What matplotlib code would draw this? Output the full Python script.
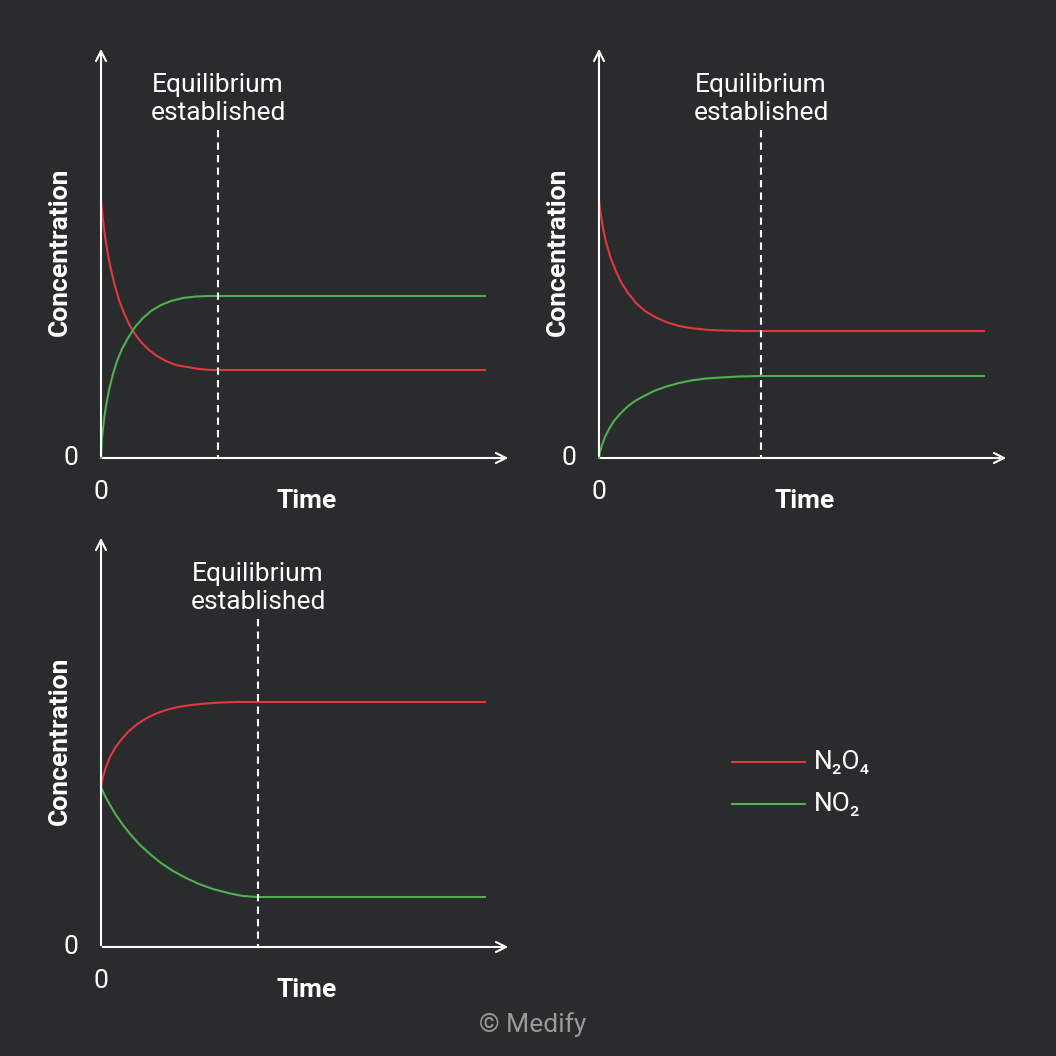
import matplotlib
matplotlib.use("Agg")
import matplotlib.pyplot as plt

BG = "#2a2b2d"
RED = "#e0393e"
GREEN = "#4fb04f"
FG = "white"
plt.rcParams["font.family"] = ["Roboto", "DejaVu Sans"]

# Curves as (time offset, concentration), in pixel units from each origin
p1_red_t = [0, 2, 4, 7, 10, 14, 18, 23, 28, 34, 40, 48, 56, 65, 75, 86, 98, 110, 117, 384]
p1_red_c = [258, 238, 222, 203, 188, 172, 158, 145, 134, 124, 116, 108, 102, 97, 93, 91, 89, 88, 88, 88]
p1_green_t = [0, 1, 3, 5, 8, 12, 16, 21, 27, 34, 42, 50, 60, 70, 82, 95, 108, 117, 384]
p1_green_c = [0, 20, 38, 52, 68, 84, 97, 109, 120, 131, 140, 147, 153, 157, 160, 161.5, 162, 162, 162]

p2_red_t = [0, 2, 4, 7, 11, 16, 22, 29, 37, 46, 56, 67, 80, 95, 110, 125, 145, 162, 385]
p2_red_c = [258, 242, 230, 216, 202, 189, 176, 165, 155, 147, 141, 136, 132, 129.5, 128, 127.5, 127, 127, 127]
p2_green_t = [0, 1, 3, 6, 10, 15, 21, 28, 36, 45, 55, 66, 78, 92, 107, 122, 140, 162, 385]
p2_green_c = [0, 6, 13, 21, 29, 37, 44, 51, 57, 62, 67, 71, 74.5, 77.5, 79.5, 80.5, 81.5, 82, 82]

p3_red_t = [0, 2, 5, 9, 14, 20, 27, 35, 44, 54, 65, 77, 90, 105, 120, 135, 157, 384]
p3_red_c = [160, 170, 180, 190, 199, 207, 215, 222, 228, 233, 237, 240, 242, 243.5, 244.5, 245, 245, 245]
p3_green_t = [0, 4, 9, 15, 22, 30, 39, 49, 60, 72, 85, 98, 112, 127, 142, 157, 384]
p3_green_c = [160, 151, 142, 132, 122, 112, 102, 93, 84, 76, 69, 63, 58, 54, 51, 50, 50]

eq_times = [117, 162, 157]
legend_labels = ["N₂O₄", "NO₂"]

panels = [
    ((101, 458), p1_red_t, p1_red_c, p1_green_t, p1_green_c),
    ((599, 458), p2_red_t, p2_red_c, p2_green_t, p2_green_c),
    ((101, 947), p3_red_t, p3_red_c, p3_green_t, p3_green_c),
]

fig = plt.figure(figsize=(10.56, 10.56), dpi=100)
fig.patch.set_facecolor(BG)
ax = fig.add_axes([0, 0, 1, 1])
ax.set_facecolor(BG)
ax.set_xlim(0, 1056)
ax.set_ylim(1056, 0)
ax.axis("off")

arrow = dict(arrowstyle="->", color=FG, lw=1.5, mutation_scale=18)
for i, ((ox, oy), rt, rc, gt, gc) in enumerate(panels):
    ax.annotate("", xy=(ox, oy - 412), xytext=(ox, oy + 1), arrowprops=arrow)
    ax.annotate("", xy=(ox + 410, oy), xytext=(ox - 1, oy), arrowprops=arrow)
    ax.plot([ox + t for t in rt], [oy - c for c in rc], color=RED, lw=1.5)
    ax.plot([ox + t for t in gt], [oy - c for c in gc], color=GREEN, lw=1.5)
    ex = ox + eq_times[i]
    ax.plot([ex, ex], [oy - 328, oy], color=FG, lw=1.5, ls=(0, (3.5, 2.5)))
    ax.text(ex, oy - 359, "Equilibrium\nestablished", color=FG, fontsize=19,
            ha="center", va="center", linespacing=1.25)
    ax.text(ox - 41, oy - 206, "Concentration", color=FG, fontsize=19,
            fontweight="bold", rotation=90, ha="center", va="center")
    ax.text(ox + 206, oy + 43, "Time", color=FG, fontsize=19,
            fontweight="bold", ha="center", va="center")
    ax.text(ox - 30, oy, "0", color=FG, fontsize=19, ha="center", va="center")
    ax.text(ox, oy + 34, "0", color=FG, fontsize=19, ha="center", va="center")

for yy, col, lab in zip([762, 804], [RED, GREEN], legend_labels):
    ax.plot([732, 805], [yy, yy], color=col, lw=1.5)
    ax.text(814, yy, lab, color=FG, fontsize=19, va="center", ha="left")

ax.text(533, 1025, "© Medify", color="#9a9a9a", fontsize=19, ha="center", va="center")

fig.savefig("out.png", dpi=100, facecolor=BG)
